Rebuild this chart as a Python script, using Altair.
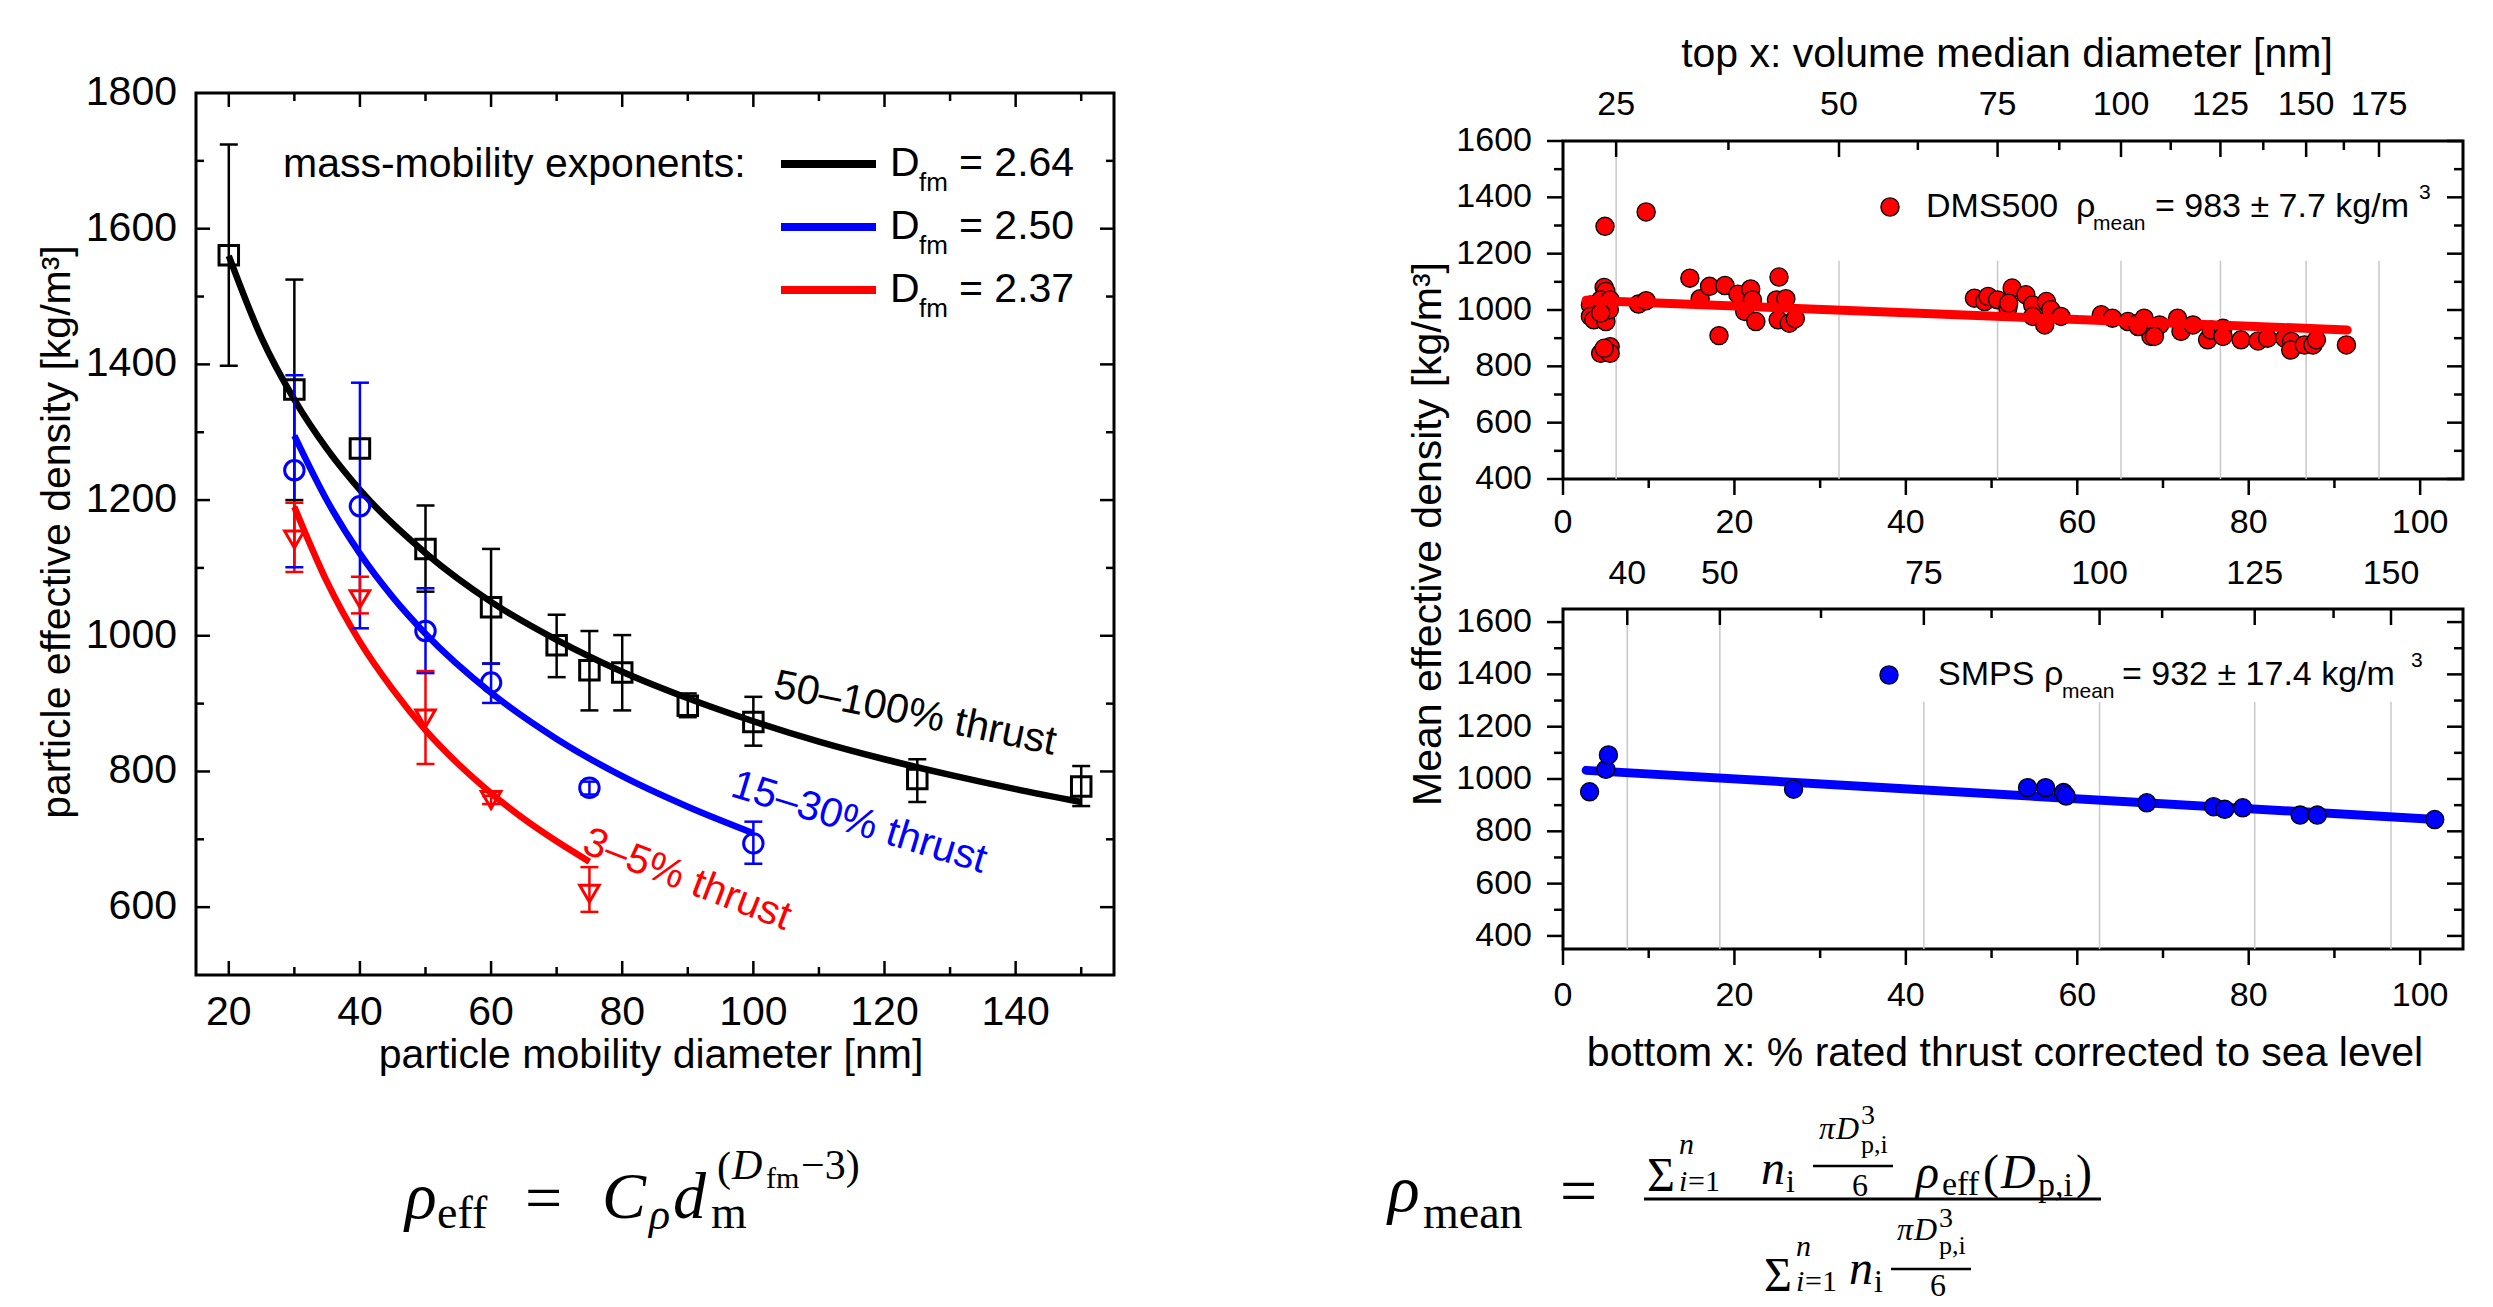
import altair as alt
import pandas as pd

FONT = "Liberation Sans"
SERIF = "Liberation Serif"
BLACK, BLUE, RED, GRID = "#000000", "#0000ff", "#ff0000", "#c8c8c8"

# ---------------- left panel data (particle mobility diameter [nm] vs density) ----------------
L_BLACK_X = [20, 30, 40, 50, 60, 70, 75, 80, 90, 100, 125, 150]
L_BLACK_Y = [1561, 1363, 1276, 1128, 1042, 986, 949, 946, 897, 873, 789, 778]
L_BLACK_EX = [20, 30, 50, 60, 70, 75, 80, 90, 100, 125, 150]
L_BLACK_LO = [1398, 1200, 1065, 959, 939, 890, 890, 880, 838, 755, 749]
L_BLACK_HI = [1724, 1525, 1192, 1128, 1031, 1007, 1001, 915, 910, 818, 808]

L_BLUE_X = [30, 40, 50, 60, 75, 100]
L_BLUE_Y = [1244, 1191, 1007, 931, 776, 694]
L_BLUE_LO = [1101, 1011, 945, 901, 766, 664]
L_BLUE_HI = [1384, 1373, 1070, 959, 785, 726]

L_RED_X = [30, 40, 50, 60, 75]
L_RED_Y = [1142, 1054, 878, 758, 620]
L_RED_LO = [1094, 1033, 811, 752, 593]
L_RED_HI = [1196, 1087, 948, 764, 659]

C_BLACK_X = [20, 25, 30, 35, 40, 50, 60, 70, 80, 90, 100, 110, 120, 130, 140, 150]
C_BLACK_Y = [1560, 1439, 1348, 1275, 1215, 1122, 1050, 994, 947, 908, 874, 844, 818, 795, 774, 755]
C_BLUE_X = [30, 35, 40, 45, 50, 60, 70, 80, 90, 100]
C_BLUE_Y = [1295, 1199, 1121, 1057, 1003, 916, 848, 793, 748, 709]
C_RED_X = [30, 35, 40, 45, 50, 55, 60, 65, 70, 75]
C_RED_Y = [1190, 1079, 991, 921, 861, 811, 768, 730, 697, 667]

L_XTICK_LABELS = [20, 40, 60, 80, 100, 120, 140]
L_YTICK_LABELS = [600, 800, 1000, 1200, 1400, 1600, 1800]

# ---------------- right panels data (% rated thrust vs mean effective density) ----------------
DMS_X = [4.9, 9.7, 4.8, 5.0, 3.2, 4.4, 5.5, 3.2, 3.6, 5.0, 5.4, 4.4, 4.4, 5.5, 5.5, 4.8, 8.8, 9.7,
         14.8, 16.0, 17.1, 18.9, 18.2, 20.4, 21.9, 22.1, 21.2, 22.5, 25.2, 24.9, 26.0, 25.1, 26.4, 27.1,
         48.0, 49.2, 49.6, 50.7, 52.4, 51.9, 52.0, 54.0, 54.8, 54.8, 56.2, 56.4, 56.9, 58.1,
         62.8, 64.1, 65.9, 67.1, 67.8, 68.6, 67.1, 69.6, 69.0, 71.7, 72.1, 73.5, 75.2, 75.6, 77.0,
         77.0, 79.1, 81.1, 82.2, 84.2, 85.0, 84.9, 86.5, 87.5, 87.9, 91.4]
DMS_Y = [1297, 1348, 1080, 1066, 1018, 1036, 1036, 977, 965, 959, 1001, 989, 846, 870, 846, 864, 1021, 1033,
         1113, 1040, 1084, 1087, 909, 1056, 1075, 1036, 995, 959, 1117, 1036, 1040, 965, 953, 969,
         1042, 1030, 1048, 1036, 1078, 1006, 1024, 1054, 1018, 977, 947, 1030, 1001, 977,
         983, 971, 959, 953, 971, 906, 941, 947, 906, 971, 924, 947, 894, 929, 935,
         906, 894, 890, 900, 900, 888, 858, 876, 876, 894, 876]
DMS_FIT_X = [2.7, 91.5]
DMS_FIT_Y = [1035, 929]

SMPS_X = [3.1, 5.0, 5.3, 26.9, 54.2, 56.3, 58.4, 58.7, 68.1, 75.9, 77.2, 79.3, 86.0, 88.0, 101.7]
SMPS_Y = [951, 1037, 1092, 961, 967, 967, 948, 935, 909, 894, 884, 890, 862, 862, 845]
SMPS_FIT_X = [2.7, 101.9]
SMPS_FIT_Y = [1033, 845]

R_XTICK_LABELS = [0, 20, 40, 60, 80, 100]
R_YTICK_LABELS = [400, 600, 800, 1000, 1200, 1400, 1600]

TOP_DIAM_POS = [6.2, 32.2, 50.7, 65.1, 76.7, 86.7, 95.2]
TOP_DIAM_LAB = ["25", "50", "75", "100", "125", "150", "175"]
TOP_DIAM_MINOR = [19.3, 41.4, 57.9, 70.9, 81.7, 91.1]
BOT_DIAM_POS = [7.5, 18.3, 42.1, 62.6, 80.7, 96.6]
BOT_DIAM_LAB = ["40", "50", "75", "100", "125", "150"]
BOT_DIAM_MINOR = [30.1, 50.0, 69.9, 89.9]

ONE = pd.DataFrame({"k": [0]})


def ptext(txt, x, y, size, color=BLACK, font=FONT, italic=False, align="left",
          baseline="alphabetic", angle=0):
    kw = dict(text=txt, fontSize=size, font=font, color=color, align=align, baseline=baseline)
    if italic:
        kw["fontStyle"] = "italic"
    if angle:
        kw["angle"] = angle
    return alt.Chart(ONE).mark_text(**kw).encode(x=alt.value(x), y=alt.value(y))


def prule(x1, x2, y1, y2, width, color=BLACK):
    return alt.Chart(ONE).mark_rule(color=color, strokeWidth=width).encode(
        x=alt.value(x1), x2=alt.value(x2), y=alt.value(y1), y2=alt.value(y2))


def frame(W, H, width=3):
    return alt.Chart(ONE).mark_rect(fill="white", fillOpacity=0, stroke=BLACK, strokeWidth=width).encode(
        x=alt.value(0), x2=alt.value(W), y=alt.value(0), y2=alt.value(H))


def ticks(vals, side, length, W, H, xs, ys, width=2.5):
    df = pd.DataFrame({"v": vals})
    m = alt.Chart(df).mark_rule(color=BLACK, strokeWidth=width)
    if side == "bottom":
        return m.encode(x=alt.X("v:Q", scale=xs, axis=None), y=alt.value(H), y2=alt.value(H + length))
    if side == "top":
        return m.encode(x=alt.X("v:Q", scale=xs, axis=None), y=alt.value(0), y2=alt.value(length))
    if side == "left":
        return m.encode(y=alt.Y("v:Q", scale=ys, axis=None), x=alt.value(0), x2=alt.value(length))
    return m.encode(y=alt.Y("v:Q", scale=ys, axis=None), x=alt.value(W), x2=alt.value(W + length))


def xlabels(vals, xs, y, size, texts=None):
    df = pd.DataFrame({"v": vals, "t": texts if texts else [str(v) for v in vals]})
    return alt.Chart(df).mark_text(fontSize=size, font=FONT, color=BLACK, align="center",
                                   baseline="top").encode(
        x=alt.X("v:Q", scale=xs, axis=None), y=alt.value(y), text="t:N")


def ylabels(vals, ys, pad, size):
    df = pd.DataFrame({"v": vals, "t": [str(v) for v in vals]})
    return alt.Chart(df).mark_text(fontSize=size, font=FONT, color=BLACK, align="right",
                                   baseline="middle").encode(
        y=alt.Y("v:Q", scale=ys, axis=None), x=alt.value(-pad), text="t:N")


def formula(pieces, ox, oy):
    return [ptext(t, x - ox, y - oy, s, font=SERIF, italic=it) for t, x, y, s, it in pieces]


# ======================= LEFT PANEL =======================
OX1, OY1 = 195, 92
W1, H1 = 918, 882
xs1 = alt.Scale(domain=[15, 155], nice=False, zero=False)
ys1 = alt.Scale(domain=[500, 1800], nice=False, zero=False)

pts1 = pd.DataFrame({
    "x": L_BLACK_X + L_BLUE_X + L_RED_X,
    "y": L_BLACK_Y + L_BLUE_Y + L_RED_Y,
    "c": [BLACK] * len(L_BLACK_X) + [BLUE] * len(L_BLUE_X) + [RED] * len(L_RED_X),
    "s": ["square"] * len(L_BLACK_X) + ["circle"] * len(L_BLUE_X) + ["triangle-down"] * len(L_RED_X),
})
err1 = pd.DataFrame({
    "x": L_BLACK_EX + L_BLUE_X + L_RED_X,
    "lo": L_BLACK_LO + L_BLUE_LO + L_RED_LO,
    "hi": L_BLACK_HI + L_BLUE_HI + L_RED_HI,
    "c": [BLACK] * len(L_BLACK_EX) + [BLUE] * len(L_BLUE_X) + [RED] * len(L_RED_X),
})
cur1 = pd.DataFrame({
    "x": C_BLACK_X + C_BLUE_X + C_RED_X,
    "y": C_BLACK_Y + C_BLUE_Y + C_RED_Y,
    "g": ["k"] * len(C_BLACK_X) + ["b"] * len(C_BLUE_X) + ["r"] * len(C_RED_X),
    "c": [BLACK] * len(C_BLACK_X) + [BLUE] * len(C_BLUE_X) + [RED] * len(C_RED_X),
})

X1 = lambda f: alt.X(f, scale=xs1, axis=None)
Y1 = lambda f: alt.Y(f, scale=ys1, axis=None)
COL = alt.Color("c:N", scale=None)

curves = alt.Chart(cur1).mark_line(strokeWidth=6.5, interpolate="monotone").encode(
    x=X1("x:Q"), y=Y1("y:Q"), detail="g:N", color=COL)
ebars = alt.Chart(err1).mark_rule(strokeWidth=2.5).encode(x=X1("x:Q"), y=Y1("lo:Q"), y2="hi:Q", color=COL)
cap_lo = alt.Chart(err1).mark_tick(orient="horizontal", size=18, thickness=2.5, opacity=1).encode(
    x=X1("x:Q"), y=Y1("lo:Q"), color=COL)
cap_hi = alt.Chart(err1).mark_tick(orient="horizontal", size=18, thickness=2.5, opacity=1).encode(
    x=X1("x:Q"), y=Y1("hi:Q"), color=COL)
points1 = alt.Chart(pts1).mark_point(filled=False, size=380, strokeWidth=3, opacity=1).encode(
    x=X1("x:Q"), y=Y1("y:Q"), color=COL, shape=alt.Shape("s:N", scale=None))

xt_major = list(range(20, 141, 20))
xt_minor = list(range(30, 151, 20))
yt_major = list(range(600, 1601, 200))
yt_minor = list(range(700, 1701, 200))
tick_layers1 = [
    ticks(xt_major, "bottom", -14, W1, H1, xs1, ys1), ticks(xt_minor, "bottom", -8, W1, H1, xs1, ys1),
    ticks(xt_major, "top", 14, W1, H1, xs1, ys1), ticks(xt_minor, "top", 8, W1, H1, xs1, ys1),
    ticks(yt_major, "left", 14, W1, H1, xs1, ys1), ticks(yt_minor, "left", 8, W1, H1, xs1, ys1),
    ticks(yt_major, "right", -14, W1, H1, xs1, ys1), ticks(yt_minor, "right", -8, W1, H1, xs1, ys1),
    xlabels(L_XTICK_LABELS, xs1, H1 + 18, 41),
    ylabels(L_YTICK_LABELS, ys1, 19, 41),
]

legend1 = [
    ptext("mass-mobility exponents:", 87, 72, 41, baseline="middle"),
    prule(585, 680, 71, 71, 8, BLACK), prule(585, 680, 134, 134, 8, BLUE), prule(585, 680, 197, 197, 8, RED),
]
for yy, val in [(71, "= 2.64"), (134, "= 2.50"), (197, "= 2.37")]:
    legend1 += [ptext("D", 694, yy, 41, baseline="middle"),
                ptext("fm", 723, yy + 19, 26, baseline="middle"),
                ptext(val, 763, yy, 41, baseline="middle")]

labels1 = [
    ptext("50\u2013100% thrust", 719, 621, 41, BLACK, align="center", baseline="middle", angle=11.7),
    ptext("15\u201330% thrust", 663, 730, 41, BLUE, align="center", baseline="middle", angle=17),
    ptext("3\u20135% thrust", 491, 787, 41, RED, align="center", baseline="middle", angle=21),
    ptext("particle mobility diameter [nm]", 455, 975, 41, align="center"),
    ptext("particle effective density [kg/m\u00b3]", -126, 439, 41, align="center", angle=270),
]

FL = [
    ("\u03c1", 404, 1217, 66, True),
    ("eff", 436, 1227, 46, False),
    ("=", 524, 1219, 66, False),
    ("C", 601, 1217, 66, True),
    ("\u03c1", 648, 1228, 44, True),
    ("d", 672, 1217, 66, True),
    ("m", 710, 1227, 46, False),
    ("(", 716, 1180, 42, False),
    ("D", 731, 1178, 42, True),
    ("fm", 765, 1187, 30, False),
    ("\u22123)", 800, 1178, 42, False),
]

anchor = prule(-OX1, -OX1 + 4, -OY1, -OY1, 1, "white")

left = alt.layer(
    anchor, frame(W1, H1), *tick_layers1, curves, ebars, cap_lo, cap_hi, points1,
    *legend1, *labels1, *formula(FL, OX1, OY1)
).properties(width=W1, height=H1)

# ======================= RIGHT PANELS =======================
OX2 = 1562
OYT, OYB = 140, 608
W2, H2T, H2B = 900, 338, 340
xs2 = alt.Scale(domain=[0, 105], nice=False, zero=False)
ysT = alt.Scale(domain=[400, 1600], nice=False, zero=False)
ysB = alt.Scale(domain=[350, 1650], nice=False, zero=False)

rx_major = list(range(0, 101, 20))
rx_minor = list(range(10, 91, 20))
ry_major = list(range(400, 1601, 200))
ry_minor = list(range(500, 1501, 200))
PT_SIZE = 330


def right_panel(ys, H, px, py, fill, fit_x, fit_y, diam_pos, diam_lab, diam_minor,
                grid_lo, grid_hi, xpad, lab_y, line_on_top):
    X = lambda f: alt.X(f, scale=xs2, axis=None)
    Y = lambda f: alt.Y(f, scale=ys, axis=None)
    grid = alt.Chart(pd.DataFrame({"x": diam_pos, "y1": grid_lo, "y2": grid_hi})).mark_rule(
        color=GRID, strokeWidth=1.5).encode(x=X("x:Q"), y=Y("y1:Q"), y2="y2:Q")
    fit = alt.Chart(pd.DataFrame({"x": fit_x, "y": fit_y})).mark_line(
        color=fill, strokeWidth=9, strokeCap="round").encode(x=X("x:Q"), y=Y("y:Q"))
    pts = alt.Chart(pd.DataFrame({"x": px, "y": py})).mark_circle(
        size=PT_SIZE, fill=fill, stroke=BLACK, strokeWidth=1.3, opacity=1).encode(
        x=X("x:Q"), y=Y("y:Q"))
    tks = [
        ticks(ry_major, "left", -16, W2, H, xs2, ys), ticks(ry_minor, "left", -9, W2, H, xs2, ys),
        ticks(ry_major, "right", -16, W2, H, xs2, ys), ticks(ry_minor, "right", -9, W2, H, xs2, ys),
        ticks(rx_major, "bottom", 16, W2, H, xs2, ys), ticks(rx_minor, "bottom", 9, W2, H, xs2, ys),
        ticks(diam_pos, "top", 16, W2, H, xs2, ys), ticks(diam_minor, "top", 9, W2, H, xs2, ys),
        xlabels(R_XTICK_LABELS, xs2, H + xpad, 34),
        ylabels(R_YTICK_LABELS, ys, 31, 34),
        xlabels(diam_pos, xs2, lab_y, 34, diam_lab),
    ]
    data_layers = [pts, fit] if line_on_top else [fit, pts]
    return [frame(W2, H), grid, *tks, *data_layers]


def legend_circle(x, y, fill):
    return alt.Chart(ONE).mark_circle(size=PT_SIZE, fill=fill, stroke=BLACK, strokeWidth=1.3, opacity=1).encode(
        x=alt.value(x), y=alt.value(y))


top_layers = right_panel(
    ysT, H2T, DMS_X, DMS_Y, RED, DMS_FIT_X, DMS_FIT_Y, TOP_DIAM_POS, TOP_DIAM_LAB, TOP_DIAM_MINOR,
    [400] * 7, [1600] + [1175] * 6, 27, -53, True)
top_layers += [
    legend_circle(327, 66, RED),
    ptext("DMS500", 363, 66, 34, baseline="middle"),
    ptext("\u03c1", 513, 66, 34, baseline="middle"),
    ptext("mean", 530, 83, 21, baseline="middle"),
    ptext("= 983 \u00b1 7.7 kg/m", 592, 66, 34, baseline="middle"),
    ptext("3", 856, 52, 21, baseline="middle"),
    ptext("top x: volume median diameter [nm]", 444, -74, 41, align="center"),
    ptext("Mean effective density [kg/m\u00b3]", -122, 393, 41, align="center", angle=270),
]
rtop = alt.layer(*top_layers).properties(width=W2, height=H2T)

FR = [
    ("\u03c1", 1387, 1210, 66, True),
    ("mean", 1422, 1227, 46, False),
    ("=", 1559, 1212, 66, False),
    # numerator
    ("\u03a3", 1646, 1190, 48, False),
    ("n", 1678, 1153, 30, True),
    ("i", 1678, 1190, 30, True),
    ("=1", 1687, 1190, 30, False),
    ("n", 1760, 1183, 48, True),
    ("i", 1785, 1191, 32, False),
    ("\u03c0", 1818, 1138, 32, True),
    ("D", 1835, 1138, 32, True),
    ("3", 1860, 1123, 28, False),
    ("p,i", 1860, 1152, 26, False),
    ("6", 1851, 1195, 32, False),
    ("\u03c1", 1915, 1187, 48, True),
    ("eff", 1941, 1194, 34, False),
    ("(", 1982, 1187, 48, False),
    ("D", 2000, 1187, 48, True),
    ("p,i", 2037, 1195, 34, False),
    (")", 2075, 1187, 48, False),
    # denominator
    ("\u03a3", 1763, 1290, 48, False),
    ("n", 1795, 1255, 30, True),
    ("i", 1795, 1290, 30, True),
    ("=1", 1804, 1290, 30, False),
    ("n", 1848, 1283, 48, True),
    ("i", 1873, 1291, 32, False),
    ("\u03c0", 1896, 1239, 32, True),
    ("D", 1913, 1239, 32, True),
    ("3", 1938, 1226, 28, False),
    ("p,i", 1938, 1253, 26, False),
    ("6", 1929, 1295, 32, False),
]

bot_layers = right_panel(
    ysB, H2B, SMPS_X, SMPS_Y, BLUE, SMPS_FIT_X, SMPS_FIT_Y, BOT_DIAM_POS, BOT_DIAM_LAB, BOT_DIAM_MINOR,
    [350] * 6, [1650, 1650, 1295, 1295, 1295, 1295], 30, -52, False)
bot_layers += [
    legend_circle(326, 66, BLUE),
    ptext("SMPS", 375, 66, 34, baseline="middle"),
    ptext("\u03c1", 481, 66, 34, baseline="middle"),
    ptext("mean", 499, 83, 21, baseline="middle"),
    ptext("= 932 \u00b1 17.4  kg/m", 559, 66, 34, baseline="middle"),
    ptext("3", 848, 52, 21, baseline="middle"),
    ptext("bottom x: % rated thrust corrected to sea level", 442, 457, 41, align="center"),
    prule(1643 - OX2, 2100 - OX2, 1198 - OYB, 1198 - OYB, 3),
    prule(1812 - OX2, 1892 - OX2, 1165 - OYB, 1165 - OYB, 2.5),
    prule(1890 - OX2, 1970 - OX2, 1268 - OYB, 1268 - OYB, 2.5),
    *formula(FR, OX2, OYB),
]
rbot = alt.layer(*bot_layers).properties(width=W2, height=H2B)

spacer = alt.Chart(ONE).mark_point(opacity=0).encode(
    x=alt.value(0), y=alt.value(0)).properties(width=W2, height=OYT - OY1)

right_inner = alt.vconcat(rtop, rbot, spacing=OYB - OYT - H2T, bounds="flush")
right_col = alt.vconcat(spacer, right_inner, spacing=0, bounds="flush")

chart = alt.hconcat(left, right_col, spacing=OX2 - OX1 - W1, bounds="flush").properties(
    padding=0, background="white"
).configure_view(stroke=None)

chart.save("out.html", embed_options={"renderer": "svg", "actions": False})
